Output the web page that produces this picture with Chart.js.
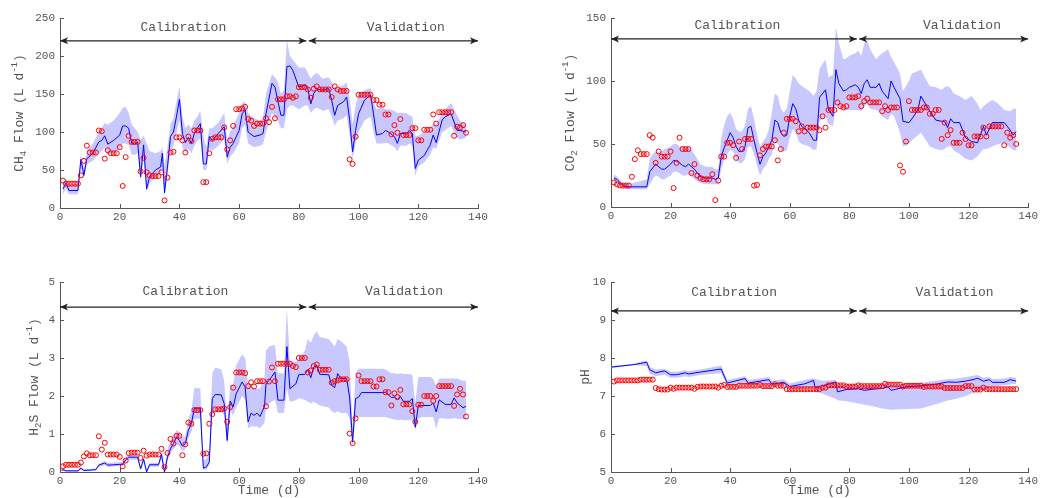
<!DOCTYPE html>
<html>
<head>
<meta charset="utf-8">
<script src="https://cdn.jsdelivr.net/npm/chart.js@4.4.1/dist/chart.umd.min.js"></script>
<style>
  html, body { margin: 0; padding: 0; background: #fff; }
  body { width: 1040px; height: 498px; position: relative; overflow: hidden; }
  canvas { position: absolute; }
</style>
</head>
<body>
<canvas id="ch4Chart" width="500" height="249" style="left:0;top:0"></canvas>
<canvas id="co2Chart" width="500" height="249" style="left:540px;top:0"></canvas>
<canvas id="h2sChart" width="500" height="249" style="left:0;top:249px"></canvas>
<canvas id="phChart" width="500" height="249" style="left:540px;top:249px"></canvas>
<script>
// Sampling days of the measurements (one per day)
const obsDays = Array.from({ length: 136 }, (_, i) => i + 1);

// Measured values (red circles), days 1..136
const ch4Obs = [
    36, 32, 32, 32, 32, 32, 43, 62, 82, 73,
    73, 73, 102, 101, 65, 76, 72, 72, 72, 80,
    29, 67, 95, 87, 87, 87, 48, 66, 47, 43,
    42, 42, 42, 47, 10, 40, 73, 74, 93, 93,
    89, 73, 94, 88, 102, 102, 102, 34, 34, 72,
    91, 93, 93, 93, 106, 77, 89, 108, 130, 130,
    131, 133, 117, 115, 108, 111, 111, 111, 118, 113,
    133, 118, 143, 143, 143, 147, 147, 145, 147, 159,
    159, 159, 156, 145, 157, 160, 156, 156, 156, 156,
    146, 160, 156, 154, 154, 154, 64, 58, 94, 149,
    149, 149, 149, 149, 142, 142, 136, 136, 123, 123,
    97, 109, 99, 117, 96, 96, 96, 105, 105, 89,
    89, 103, 103, 103, 123, 111, 126, 126, 126, 126,
    126, 95, 107, 106, 109, 99
];
const co2Obs = [
    19.5, 18, 17, 17, 17, 17, 24, 38, 45, 42,
    42, 42, 57, 55, 35, 44, 40, 40, 40, 44,
    15, 35, 55, 46, 46, 46, 27, 34, 25, 23,
    22, 22, 22, 26, 5.5, 21, 40, 40, 51, 51,
    49, 39, 52, 46, 54, 54, 54, 17, 17.5, 41,
    46, 48, 48, 48, 53, 37, 46, 59, 70, 70,
    70, 68, 60, 64, 60, 63, 63, 63, 63, 61,
    72, 63, 77, 77, 77, 83, 80, 79, 80, 87,
    87, 87, 88, 80, 84, 86, 83, 83, 83, 83,
    76, 80, 77, 79, 79, 79, 33, 28, 52, 84,
    77, 77, 77, 77, 79, 79, 74, 74, 77, 77,
    54, 67, 57, 61, 51, 51, 51, 59, 54, 49,
    49, 56, 56, 56, 63, 56, 64, 64, 64, 64,
    64, 49, 59, 55, 57, 50
];
const h2sObs = [
    0.15, 0.19, 0.19, 0.19, 0.19, 0.19, 0.25, 0.41, 0.49, 0.44,
    0.44, 0.44, 0.94, 0.59, 0.77, 0.46, 0.46, 0.46, 0.46, 0.40,
    0.15, 0.30, 0.50, 0.51, 0.51, 0.51, 0.37, 0.56, 0.43, 0.46,
    0.46, 0.46, 0.46, 0.61, 0.13, 0.50, 0.87, 0.75, 0.95, 0.95,
    0.44, 0.73, 1.30, 1.27, 1.63, 1.63, 1.63, 0.48, 0.49, 1.27,
    1.52, 1.65, 1.65, 1.65, 1.67, 1.32, 1.71, 2.22, 2.62, 2.62,
    2.62, 2.60, 2.26, 2.36, 2.25, 2.39, 2.39, 2.39, 1.73, 2.38,
    2.75, 2.39, 2.85, 2.85, 2.85, 2.85, 2.85, 2.79, 2.76, 3.00,
    3.00, 3.00, 2.62, 2.67, 2.79, 2.83, 2.69, 2.69, 2.69, 2.69,
    2.35, 2.39, 2.41, 2.44, 2.44, 2.44, 1.01, 0.76, 1.41, 2.54,
    2.39, 2.39, 2.39, 2.39, 2.25, 2.25, 2.44, 2.44, 2.10, 2.10,
    1.75, 2.07, 1.97, 2.16, 1.78, 1.78, 1.78, 1.60, 1.32, 1.77,
    1.77, 2.00, 2.00, 2.00, 1.87, 2.00, 2.26, 2.26, 2.26, 2.26,
    2.26, 1.74, 2.04, 2.19, 2.04, 1.46
];
const phObs = [
    7.38, 7.41, 7.41, 7.41, 7.41, 7.41, 7.41, 7.41, 7.41, 7.43,
    7.43, 7.43, 7.43, 7.43, 7.21, 7.18, 7.17, 7.17, 7.17, 7.22,
    7.19, 7.22, 7.22, 7.22, 7.22, 7.22, 7.22, 7.19, 7.24, 7.25,
    7.25, 7.25, 7.25, 7.25, 7.25, 7.22, 7.27, 7.29, 7.24, 7.24,
    7.24, 7.24, 7.27, 7.27, 7.27, 7.27, 7.27, 7.27, 7.27, 7.29,
    7.26, 7.26, 7.26, 7.26, 7.31, 7.27, 7.27, 7.27, 7.18, 7.18,
    7.18, 7.18, 7.18, 7.18, 7.18, 7.18, 7.18, 7.18, 7.18, 7.18,
    7.22, 7.22, 7.28, 7.28, 7.28, 7.28, 7.28, 7.28, 7.25, 7.25,
    7.25, 7.25, 7.28, 7.26, 7.26, 7.26, 7.26, 7.26, 7.26, 7.26,
    7.26, 7.32, 7.30, 7.30, 7.30, 7.30, 7.30, 7.25, 7.27, 7.27,
    7.27, 7.27, 7.27, 7.27, 7.24, 7.25, 7.25, 7.25, 7.25, 7.25,
    7.25, 7.21, 7.21, 7.21, 7.21, 7.21, 7.21, 7.21, 7.26, 7.26,
    7.26, 7.17, 7.17, 7.17, 7.22, 7.18, 7.18, 7.18, 7.18, 7.18,
    7.18, 7.18, 7.18, 7.18, 7.18, 7.18
];

// Model output: days, simulated value, lower / upper uncertainty bound
const ch4ModelDays = [1, 2, 3, 6, 7, 8, 9, 11, 13, 14, 15, 16, 18, 20, 21, 22, 23, 24, 25, 26, 27, 28, 29, 30, 32, 33.7, 34.3, 35, 36, 37, 38, 39, 40, 41, 42, 43, 44, 45, 46, 47, 48, 49, 50, 51, 53, 55, 56, 57, 58, 60, 61, 62, 63, 65, 67, 68, 69, 71, 72, 73, 74, 75, 76, 77, 78, 80, 82, 83, 84, 85, 86, 88, 90, 91, 92, 93, 95, 96, 97, 98, 99, 100, 102, 104, 105, 106, 108, 109, 110, 112, 113, 114, 116, 117, 118, 119, 120, 122, 123, 124, 125, 126, 128, 129, 131, 133, 134, 136];
const ch4Model = [25, 33, 23, 23, 64, 43, 65, 72, 87, 89, 95, 84, 89, 96, 108, 108, 105, 85, 84, 87, 41, 83, 25, 41, 50, 54, 72, 20, 54, 94, 100, 120, 143, 98, 86, 93, 85, 98, 105, 111, 58, 58, 94, 89, 98, 107, 67, 80, 85, 102, 124, 129, 100, 94, 96, 98, 124, 164, 159, 140, 122, 122, 186, 187, 181, 159, 162, 157, 137, 151, 156, 155, 157, 142, 122, 135, 140, 146, 116, 74, 102, 124, 142, 149, 124, 96, 98, 102, 100, 94, 85, 98, 98, 102, 98, 52, 63, 69, 76, 83, 96, 86, 116, 120, 124, 102, 102, 100];
const ch4Lower = [18, 26, 18, 18, 55, 38, 58, 62, 72, 75, 80, 70, 73, 78, 85, 85, 83, 70, 70, 72, 35, 65, 20, 33, 40, 45, 55, 15, 45, 75, 82, 98, 115, 80, 72, 78, 72, 82, 88, 92, 50, 50, 78, 75, 82, 90, 58, 68, 72, 85, 105, 110, 85, 80, 82, 84, 100, 125, 120, 115, 105, 105, 130, 135, 135, 130, 135, 135, 125, 130, 132, 128, 130, 120, 108, 115, 118, 122, 95, 65, 85, 100, 115, 120, 100, 85, 85, 86, 85, 80, 75, 82, 82, 85, 82, 42, 55, 60, 65, 70, 80, 78, 100, 102, 108, 92, 90, 92];
const ch4Upper = [32, 38, 30, 32, 72, 52, 76, 85, 100, 106, 112, 110, 115, 125, 132, 133, 125, 110, 105, 100, 90, 95, 85, 75, 72, 75, 80, 55, 80, 110, 118, 140, 160, 120, 105, 110, 105, 115, 120, 128, 95, 80, 105, 105, 112, 125, 90, 100, 108, 125, 138, 140, 125, 118, 115, 118, 150, 176, 172, 165, 150, 155, 221, 200, 195, 185, 185, 178, 170, 175, 178, 170, 172, 165, 160, 158, 162, 165, 145, 110, 135, 150, 155, 158, 140, 130, 133, 130, 130, 128, 125, 125, 125, 122, 120, 95, 95, 100, 100, 105, 112, 110, 125, 130, 138, 122, 115, 108];

const co2ModelDays = [1, 2, 4, 6, 12, 13, 14, 15, 16, 17, 18, 20, 21, 22, 23, 24, 25, 26, 27, 28, 30, 32, 34, 35, 36, 37, 38, 39, 40, 41, 42, 43, 44, 45, 46, 47, 48, 49, 50, 51, 52, 53, 54, 55, 56, 57, 58, 59, 60, 61, 62, 63, 64, 66.5, 68, 69, 70, 72, 73, 74.5, 75.5, 76.5, 78, 79, 80, 82, 83, 84, 85, 86, 87, 89, 90, 91, 93, 94, 95, 97, 98, 100, 101, 103, 104, 106, 107, 109, 111, 112, 113, 114, 115, 117, 119, 121, 123, 124, 125, 126, 128, 130, 132, 134, 135, 136];
const co2Model = [23, 22, 17, 16, 16, 28, 31, 34, 32, 30, 30, 34, 37, 36.5, 35, 33, 32, 34, 32, 30, 24, 23, 23, 22, 23, 40, 47, 53, 59, 55, 48, 44, 44, 48, 63, 64, 53, 43, 34, 40, 43, 48, 53, 69, 67, 59, 56, 57, 72, 82, 78, 69, 64, 59, 53, 53, 87, 93, 77, 72, 109, 98, 92, 93, 95, 97, 95, 90, 98, 101, 95, 95, 98, 92, 86, 100, 95, 86, 68, 67, 70, 77, 88, 80, 76, 69, 68, 68, 63, 70, 67, 67, 55, 52, 51, 57, 64, 57, 67, 67, 67, 61, 57, 60];
const co2Lower = [20, 19, 15, 14, 14, 18, 22, 25, 24, 22, 22, 25, 28, 28, 27, 25, 25, 26, 24, 22, 19, 18, 18, 18, 18, 30, 38, 42, 45, 44, 38, 35, 35, 38, 48, 48, 42, 33, 25, 30, 33, 38, 42, 52, 50, 45, 44, 45, 55, 62, 60, 52, 50, 48, 45, 46, 68, 72, 66, 64, 82, 80, 77, 77, 77, 77, 77, 76, 80, 82, 78, 77, 76, 72, 69, 74, 72, 59, 48, 50, 53, 57, 59, 52, 48, 46, 45, 46, 48, 48, 45, 42, 38, 37, 40, 43, 46, 46, 48, 50, 51, 47, 45, 45];
const co2Upper = [26, 24, 19, 18, 22, 38, 42, 44, 44, 44, 46, 48, 50, 50, 48, 48, 47, 48, 45, 42, 34, 32, 32, 30, 30, 55, 65, 72, 75, 70, 62, 60, 60, 65, 78, 80, 70, 58, 48, 52, 55, 62, 75, 90, 88, 78, 75, 78, 92, 105, 102, 98, 96, 92, 88, 92, 110, 117, 103, 105, 143, 130, 117, 118, 120, 122, 124, 120, 130, 132, 125, 117, 120, 122, 125, 119, 115, 106, 92, 100, 106, 108, 109, 100, 96, 95, 93, 95, 96, 94, 90, 88, 85, 88, 82, 77, 80, 82, 85, 82, 77, 76, 78, 78];

const h2sModelDays = [0.5, 1, 2, 6, 7, 8, 12, 13, 15, 16, 20, 21, 22, 23, 26, 27, 28, 29, 30, 33, 34, 35, 36, 37, 38, 39, 40, 41, 42, 43, 44, 45, 47, 48, 49, 50, 51, 52, 54, 55, 56, 57, 58, 59, 61, 62, 63, 64, 65, 66, 67, 68.5, 69, 70, 72, 73, 75, 76, 77, 79, 80, 82, 83, 84, 85, 86, 87, 90, 91, 92, 93, 94, 96, 97, 98, 99, 100, 101, 108, 109, 111, 112, 113, 114, 115, 117, 118, 119, 120, 121, 124, 125, 126, 127, 129, 131, 132, 133, 135, 136];
const h2sModel = [0.04, 0.06, 0.03, 0.03, 0.10, 0.04, 0.06, 0.18, 0.24, 0.18, 0.20, 0.20, 0.32, 0.39, 0.39, 0.08, 0.34, 0.0, 0.19, 0.19, 0.46, 0.0, 0.39, 0.61, 0.75, 0.92, 0.83, 0.68, 0.75, 1.10, 1.27, 1.68, 1.68, 0.10, 0.13, 0.26, 1.93, 2.04, 2.03, 1.80, 0.83, 1.87, 1.71, 2.06, 2.37, 2.24, 1.32, 1.55, 1.49, 1.55, 1.46, 1.73, 2.32, 2.41, 2.63, 1.89, 1.89, 3.30, 2.19, 2.32, 2.56, 2.57, 2.69, 2.48, 2.76, 2.81, 2.57, 2.56, 2.28, 2.22, 2.59, 2.46, 2.46, 1.97, 0.79, 1.93, 1.97, 2.09, 2.09, 2.10, 1.96, 1.97, 1.91, 1.99, 1.86, 1.86, 1.93, 1.18, 1.75, 1.75, 1.75, 1.82, 1.58, 1.90, 1.78, 1.78, 1.95, 1.82, 1.69, 1.73];
const h2sLower = [0.02, 0.03, 0.01, 0.01, 0.06, 0.02, 0.04, 0.13, 0.18, 0.14, 0.16, 0.16, 0.26, 0.32, 0.32, 0.05, 0.27, 0.0, 0.14, 0.14, 0.35, 0.0, 0.30, 0.50, 0.60, 0.72, 0.68, 0.55, 0.60, 0.90, 1.05, 1.40, 1.40, 0.05, 0.08, 0.18, 1.50, 1.60, 1.60, 1.50, 0.70, 1.60, 1.50, 1.70, 2.00, 1.90, 1.15, 1.20, 1.20, 1.20, 1.15, 1.30, 1.70, 1.80, 1.90, 1.55, 1.55, 2.20, 1.85, 1.89, 1.95, 1.90, 1.85, 1.80, 1.85, 1.80, 1.75, 1.70, 1.60, 1.55, 1.60, 1.55, 1.55, 1.40, 0.66, 1.40, 1.45, 1.45, 1.45, 1.45, 1.40, 1.38, 1.36, 1.38, 1.36, 1.36, 1.38, 1.10, 1.40, 1.45, 1.45, 1.45, 1.14, 1.42, 1.40, 1.40, 1.42, 1.40, 1.38, 1.40];
const h2sUpper = [0.07, 0.08, 0.05, 0.05, 0.13, 0.07, 0.09, 0.22, 0.28, 0.24, 0.26, 0.26, 0.40, 0.45, 0.45, 0.15, 0.40, 0.08, 0.24, 0.24, 0.55, 0.10, 0.60, 0.85, 0.95, 1.10, 1.05, 0.90, 0.95, 1.40, 1.60, 2.22, 2.20, 0.30, 0.35, 0.55, 2.60, 2.75, 2.70, 2.40, 1.20, 2.30, 2.30, 2.80, 3.10, 3.00, 2.30, 2.25, 2.20, 2.20, 2.20, 2.50, 3.20, 3.30, 3.35, 2.60, 2.60, 4.30, 2.90, 2.90, 2.95, 3.20, 3.50, 3.40, 3.60, 3.70, 3.55, 3.50, 3.40, 3.30, 3.50, 3.45, 3.30, 2.90, 1.10, 2.60, 2.72, 2.72, 2.72, 2.70, 2.60, 2.60, 2.58, 2.60, 2.58, 2.58, 2.55, 1.80, 2.50, 2.50, 2.50, 2.45, 2.24, 2.46, 2.46, 2.46, 2.46, 2.46, 2.40, 2.40];

const phModelDays = [0, 8, 10, 12, 13, 15, 18, 20, 22, 25, 26, 30, 37, 39, 45, 46, 53, 54, 58, 60, 65, 68, 68.5, 71, 75.5, 76, 79, 83, 85, 88, 91, 93, 94, 99, 104, 109, 113, 116, 119, 122, 123, 125, 127, 128, 132, 134, 136];
const phModel = [7.76, 7.83, 7.86, 7.89, 7.69, 7.61, 7.66, 7.56, 7.56, 7.61, 7.58, 7.63, 7.71, 7.34, 7.46, 7.34, 7.43, 7.31, 7.36, 7.25, 7.32, 7.41, 7.22, 7.27, 7.37, 7.11, 7.17, 7.19, 7.15, 7.18, 7.20, 7.24, 7.15, 7.24, 7.27, 7.31, 7.37, 7.36, 7.39, 7.44, 7.47, 7.39, 7.43, 7.36, 7.36, 7.43, 7.39];
const phLower = [7.74, 7.81, 7.80, 7.78, 7.58, 7.52, 7.56, 7.48, 7.48, 7.52, 7.50, 7.55, 7.60, 7.28, 7.36, 7.27, 7.32, 7.25, 7.26, 7.18, 7.20, 7.22, 7.12, 7.06, 6.92, 6.89, 6.86, 6.80, 6.77, 6.73, 6.67, 6.65, 6.64, 6.66, 6.67, 6.78, 6.88, 6.93, 7.00, 7.10, 7.12, 7.15, 7.22, 7.24, 7.28, 7.30, 7.32];
const phUpper = [7.78, 7.85, 7.90, 7.93, 7.76, 7.70, 7.72, 7.64, 7.64, 7.68, 7.66, 7.70, 7.80, 7.42, 7.52, 7.42, 7.50, 7.40, 7.44, 7.33, 7.42, 7.47, 7.45, 7.40, 7.42, 7.30, 7.30, 7.30, 7.28, 7.30, 7.32, 7.34, 7.30, 7.32, 7.35, 7.40, 7.44, 7.46, 7.50, 7.54, 7.55, 7.48, 7.50, 7.45, 7.46, 7.50, 7.48];

// Calibration / validation periods (days)
const CAL_START = 0;
const CAL_END = 82.5;
const VAL_START = 83.3;
const VAL_END = 140;

// Styling
const FONT = "'Liberation Mono', 'DejaVu Sans Mono', monospace";
const GREY = '#555';
const BAND_COLOR = 'rgb(200, 200, 255)';

Chart.defaults.font.family = FONT;

const toPoints = (xs, ys) => xs.map((x, i) => ({ x, y: ys[i] }));

// Vertical axis title with sub/superscripts
const drawVerticalTitle = (ctx, parts, cx, cy) => {
    ctx.save();
    ctx.translate(cx, cy);
    ctx.rotate(-Math.PI / 2);
    ctx.fillStyle = GREY;
    ctx.textBaseline = 'middle';
    ctx.textAlign = 'left';
    const fontFor = kind => `${kind ? 9 : 13}px ${FONT}`;
    const widths = parts.map(([t, kind]) => {
        ctx.font = fontFor(kind);
        return ctx.measureText(t).width;
    });
    let pos = -widths.reduce((a, b) => a + b, 0) / 2;
    parts.forEach(([t, kind], i) => {
        ctx.font = fontFor(kind);
        const dy = kind === 'sub' ? 4 : kind === 'sup' ? -5 : 0;
        ctx.fillText(t, pos, dy);
        pos += widths[i];
    });
    ctx.restore();
};

// Double-headed arrow
const drawArrow = (ctx, x0, x1, y) => {
    ctx.beginPath();
    ctx.moveTo(x0, y);
    ctx.lineTo(x1, y);
    ctx.stroke();
    [[x0, 1], [x1, -1]].forEach(([x, dir]) => {
        ctx.beginPath();
        ctx.moveTo(x, y);
        ctx.lineTo(x + dir * 8, y - 3.5);
        ctx.lineTo(x + dir * 6, y);
        ctx.lineTo(x + dir * 8, y + 3.5);
        ctx.closePath();
        ctx.fill();
    });
};

// Inward ticks, period arrows and axis title
const panelDecor = {
    id: 'panelDecor',
    afterDatasetsDraw(chart, args, opts) {
        const { ctx, chartArea, scales: { x, y } } = chart;
        ctx.save();
        ctx.strokeStyle = GREY;
        ctx.lineWidth = 1;
        x.ticks.forEach(t => {
            const px = Math.round(x.getPixelForValue(t.value)) + 0.5;
            ctx.beginPath();
            ctx.moveTo(px, chartArea.bottom);
            ctx.lineTo(px, chartArea.bottom - 4);
            ctx.stroke();
        });
        y.ticks.forEach(t => {
            const py = Math.round(y.getPixelForValue(t.value)) + 0.5;
            ctx.beginPath();
            ctx.moveTo(chartArea.left, py);
            ctx.lineTo(chartArea.left + 4, py);
            ctx.stroke();
        });

        // calibration / validation arrows
        const ay = y.getPixelForValue(opts.arrowY);
        ctx.strokeStyle = '#222';
        ctx.fillStyle = '#222';
        ctx.lineWidth = 1.2;
        drawArrow(ctx, x.getPixelForValue(CAL_START), x.getPixelForValue(CAL_END), ay);
        drawArrow(ctx, x.getPixelForValue(VAL_START), x.getPixelForValue(VAL_END), ay);

        ctx.fillStyle = GREY;
        ctx.font = `13px ${FONT}`;
        ctx.textAlign = 'center';
        ctx.textBaseline = 'middle';
        const ly = y.getPixelForValue(opts.labelY);
        ctx.fillText('Calibration', x.getPixelForValue(opts.calLabelX), ly);
        ctx.fillText('Validation', x.getPixelForValue(opts.valLabelX), ly);
        ctx.restore();
    },
    afterDraw(chart, args, opts) {
        const { chartArea } = chart;
        drawVerticalTitle(chart.ctx, opts.titleParts, opts.titleX, (chartArea.top + chartArea.bottom) / 2);
    }
};

// Function to create one panel
const createPanel = (canvasId, cfg) => {
    const ctx = document.getElementById(canvasId).getContext('2d');
    const tickFont = { family: FONT, size: 11 };

    return new Chart(ctx, {
        type: 'line',
        data: {
            datasets: [
                {
                    data: toPoints(cfg.modelDays, cfg.lower),
                    borderColor: 'rgba(0,0,0,0)',
                    pointRadius: 0,
                    fill: false,
                    order: 3
                },
                {
                    data: toPoints(cfg.modelDays, cfg.upper),
                    borderColor: 'rgba(0,0,0,0)',
                    backgroundColor: BAND_COLOR,
                    pointRadius: 0,
                    fill: '-1',
                    order: 3
                },
                {
                    data: toPoints(cfg.modelDays, cfg.model),
                    borderColor: '#0000ff',
                    borderWidth: 1,
                    pointRadius: 0,
                    fill: false,
                    order: 2
                },
                {
                    data: toPoints(obsDays, cfg.obs),
                    showLine: false,
                    pointRadius: 2.5,
                    pointBorderWidth: 1,
                    borderColor: '#ff0000',
                    backgroundColor: 'rgba(0,0,0,0)',
                    fill: false,
                    order: 1
                }
            ]
        },
        options: {
            responsive: false,
            animation: false,
            devicePixelRatio: 1,
            layout: { padding: cfg.padding, autoPadding: false },
            scales: {
                x: {
                    type: 'linear',
                    min: 0,
                    max: 140,
                    ticks: { stepSize: 20, font: tickFont, color: GREY, padding: 2, maxRotation: 0 },
                    grid: { display: false, drawTicks: false },
                    border: { display: true, color: GREY, width: 1 },
                    title: {
                        display: cfg.showTime,
                        text: 'Time (d)',
                        font: { family: FONT, size: 13 },
                        color: GREY,
                        padding: 0
                    },
                    afterFit: (scale) => { scale.height = cfg.xAxisHeight; }
                },
                y: {
                    min: cfg.yMin,
                    max: cfg.yMax,
                    ticks: { stepSize: cfg.yStep, font: tickFont, color: GREY, padding: 5 },
                    grid: { display: false, drawTicks: false },
                    border: { display: true, color: GREY, width: 1 },
                    afterFit: (scale) => { scale.width = cfg.yAxisWidth; }
                }
            },
            plugins: {
                legend: { display: false },
                tooltip: { enabled: false },
                panelDecor: {
                    arrowY: cfg.arrowY,
                    labelY: cfg.labelY,
                    calLabelX: cfg.calLabelX,
                    valLabelX: cfg.valLabelX,
                    titleParts: cfg.titleParts,
                    titleX: cfg.titleX
                }
            }
        },
        plugins: [panelDecor]
    });
};

createPanel('ch4Chart', {
    obs: ch4Obs, modelDays: ch4ModelDays, model: ch4Model, lower: ch4Lower, upper: ch4Upper,
    yMin: 0, yMax: 250, yStep: 50,
    arrowY: 220, labelY: 238, calLabelX: 41.3, valLabelX: 115.8,
    titleParts: [['CH'], ['4', 'sub'], [' Flow (L d'], ['-1', 'sup'], [')']],
    titleX: 20, yAxisWidth: 60, xAxisHeight: 41, showTime: false,
    padding: { top: 18, right: 22, left: 0, bottom: 0 }
});

createPanel('co2Chart', {
    obs: co2Obs, modelDays: co2ModelDays, model: co2Model, lower: co2Lower, upper: co2Upper,
    yMin: 0, yMax: 150, yStep: 50,
    arrowY: 133.4, labelY: 144, calLabelX: 42.4, valLabelX: 117.8,
    titleParts: [['CO'], ['2', 'sub'], [' Flow (L d'], ['-1', 'sup'], [')']],
    titleX: 31, yAxisWidth: 71, xAxisHeight: 42, showTime: false,
    padding: { top: 18, right: 10, left: 0, bottom: 0 }
});

createPanel('h2sChart', {
    obs: h2sObs, modelDays: h2sModelDays, model: h2sModel, lower: h2sLower, upper: h2sUpper,
    yMin: 0, yMax: 5, yStep: 1,
    arrowY: 4.34, labelY: 4.75, calLabelX: 42, valLabelX: 115.2,
    titleParts: [['H'], ['2', 'sub'], ['S Flow (L d'], ['-1', 'sup'], [')']],
    titleX: 35, yAxisWidth: 60, xAxisHeight: 26, showTime: true,
    padding: { top: 33, right: 22, left: 0, bottom: 0 }
});

createPanel('phChart', {
    obs: phObs, modelDays: phModelDays, model: phModel, lower: phLower, upper: phUpper,
    yMin: 5, yMax: 10, yStep: 1,
    arrowY: 9.24, labelY: 9.72, calLabelX: 41.3, valLabelX: 115.3,
    titleParts: [['pH']],
    titleX: 46, yAxisWidth: 71, xAxisHeight: 26, showTime: true,
    padding: { top: 33, right: 10, left: 0, bottom: 0 }
});
</script>
</body>
</html>
